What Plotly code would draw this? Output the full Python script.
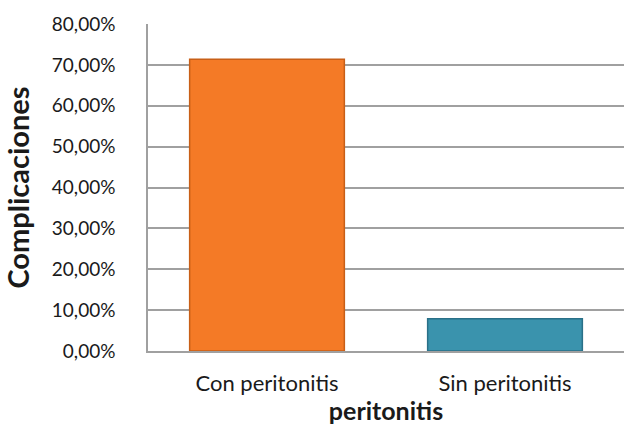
import plotly.graph_objects as go

categorias = ['Con peritonitis', 'Sin peritonitis']
porcentajes = [71.4, 7.9]
colores = ['#F47A26', '#3A93AD']
bordes = ['#C85F17', '#2A7088']

fig = go.Figure(
    data=[go.Bar(
        x=categorias,
        y=porcentajes,
        width=0.65,
        marker=dict(color=colores, line=dict(color=bordes, width=1.5)),
        hovertemplate='%{x}<br>%{y:.2f}%<extra></extra>'
    )]
)

fig.update_layout(
    width=625, height=425,
    margin=dict(l=148, r=1, t=24, b=74),
    plot_bgcolor='white', paper_bgcolor='white',
    separators=',.',
    font=dict(family='Lato, Open Sans, sans-serif', color='#1a1a1a'),
    showlegend=False
)

fig.update_yaxes(
    automargin=False,
    range=[0, 80], dtick=10,
    tickformat='.2f', ticksuffix='%',
    tickfont=dict(size=19),
    ticklabelstandoff=27,
    showgrid=True, gridcolor='#A0A0A0', gridwidth=1.5,
    showline=True, linecolor='#A0A0A0', linewidth=1.5,
    zeroline=False,
    title=dict(text='<b>Complicaciones</b>', font=dict(size=29), standoff=14)
)

fig.update_xaxes(
    automargin=False,
    range=[-0.5, 1.5],
    tickfont=dict(size=22),
    ticklabelstandoff=12,
    showline=True, linecolor='#A0A0A0', linewidth=1.5,
    title=dict(text='<b>peritonitis</b>', font=dict(size=25), standoff=0)
)

# quitar el margen del body para que el grafico quede en (0,0)
fig.write_html(
    "out.html",
    config={'displayModeBar': False},
    post_script="document.body.style.margin='0';"
)
